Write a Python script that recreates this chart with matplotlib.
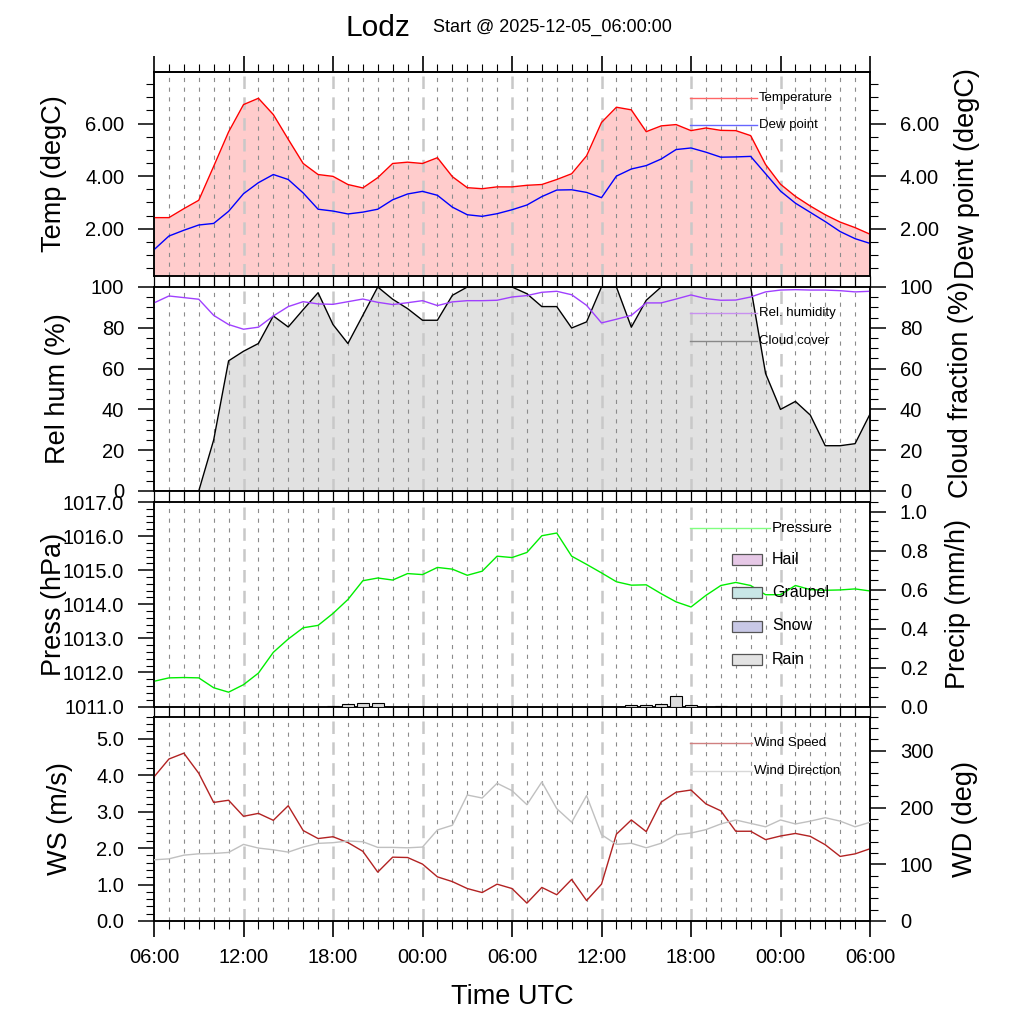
import matplotlib
matplotlib.use('Agg')
import matplotlib.pyplot as plt
import numpy as np
from matplotlib.ticker import MultipleLocator, FormatStrFormatter, FixedLocator
from matplotlib.patches import Rectangle

plt.rcParams['font.family'] = ['Liberation Sans', 'DejaVu Sans']
plt.rcParams['lines.scale_dashes'] = False

# ---------------- data ----------------
hours = np.arange(49)
time_labels = ["06:00", "12:00", "18:00", "00:00", "06:00", "12:00", "18:00", "00:00", "06:00"]

temperature = [2.42, 2.42, 2.76, 3.08, 4.37, 5.68, 6.72, 6.96, 6.34, 5.40,
               4.48, 4.06, 3.99, 3.68, 3.55, 3.94, 4.48, 4.53, 4.48, 4.70,
               3.98, 3.56, 3.52, 3.59, 3.59,
               3.65, 3.68, 3.87, 4.09, 4.77, 6.04, 6.62, 6.52, 5.69, 5.91,
               5.96, 5.73, 5.83, 5.74, 5.73, 5.54, 4.44, 3.69, 3.23, 2.86,
               2.53, 2.25, 2.04, 1.79]
dew_point = [1.20, 1.72, 1.94, 2.14, 2.20, 2.66, 3.33, 3.75, 4.06, 3.87,
             3.36, 2.74, 2.67, 2.56, 2.63, 2.74, 3.10, 3.32, 3.42, 3.27,
             2.82, 2.53, 2.47, 2.57, 2.72,
             2.90, 3.22, 3.47, 3.48, 3.38, 3.18, 4.00, 4.27, 4.40, 4.65,
             5.01, 5.07, 4.91, 4.72, 4.73, 4.75, 4.09, 3.43, 2.97, 2.62,
             2.27, 1.89, 1.62, 1.44]
rel_humidity = [92.2, 95.6, 94.8, 94.0, 86.1, 81.6, 79.3, 80.3, 85.8, 90.4,
                92.8, 91.7, 91.5, 92.8, 94.1, 92.5, 91.4, 92.3, 93.3, 90.9,
                92.7, 93.3, 93.3, 93.5, 95.1,
                95.8, 97.4, 97.9, 96.2, 91.0, 82.4, 84.2, 86.1, 92.2, 92.2,
                94.1, 96.1, 94.3, 93.5, 93.6, 95.1, 97.6, 98.5, 98.7, 98.5,
                98.5, 98.2, 97.6, 97.9]
cloud_cover = [0, 0, 0, 0, 25.0, 63.8, 68.5, 72.3, 85.8, 80.4,
               88.9, 97.2, 81.6, 72.3, 86.1, 100, 94.0, 89.4, 83.7, 83.7,
               95.9, 100, 100, 100, 100,
               96.7, 90.4, 90.4, 79.9, 82.9, 100, 100, 80.3, 93.5, 100,
               100, 100, 100, 100, 100, 100, 57.6, 40.0, 43.9, 37.2,
               22.2, 22.2, 23.2, 37.7]
pressure = [1011.74, 1011.84, 1011.85, 1011.84, 1011.55, 1011.42, 1011.64, 1011.98, 1012.59, 1012.98,
            1013.31, 1013.38, 1013.73, 1014.14, 1014.69, 1014.77, 1014.71, 1014.90, 1014.87, 1015.08,
            1015.03, 1014.85, 1014.97, 1015.41, 1015.37,
            1015.52, 1016.01, 1016.09, 1015.41, 1015.17, 1014.92, 1014.66, 1014.56, 1014.57, 1014.31,
            1014.07, 1013.92, 1014.26, 1014.55, 1014.64, 1014.55, 1014.28, 1014.28, 1014.55, 1014.43,
            1014.41, 1014.42, 1014.45, 1014.39]
rain = [0, 0, 0, 0, 0, 0, 0, 0, 0, 0,
        0, 0, 0.004, 0.014, 0.02, 0.02, 0, 0, 0, 0,
        0, 0, 0, 0, 0,
        0, 0, 0, 0, 0, 0, 0, 0.009, 0.009, 0.014,
        0.055, 0.009, 0, 0.003, 0, 0, 0, 0, 0, 0,
        0, 0, 0, 0]
snow = [0] * 49
graupel = [0] * 49
hail = [0] * 49
wind_speed = [3.95, 4.44, 4.60, 4.05, 3.25, 3.31, 2.87, 2.95, 2.76, 3.16,
              2.48, 2.26, 2.31, 2.15, 1.91, 1.34, 1.75, 1.74, 1.56, 1.21,
              1.08, 0.89, 0.78, 1.01, 0.89,
              0.49, 0.92, 0.72, 1.14, 0.56, 1.01, 2.38, 2.77, 2.45, 3.26,
              3.53, 3.59, 3.21, 3.02, 2.46, 2.46, 2.23, 2.33, 2.40, 2.32,
              2.09, 1.77, 1.84, 1.98]
wind_dir = [107.8, 109.5, 116, 118.4, 119, 120.8, 135, 128.5, 125.5, 121.4,
            130.3, 136.8, 138, 141, 139.7, 129.7, 129.7, 129, 130.3, 160.4,
            168.7, 222, 216.7, 242.7, 229.7,
            205, 245, 198, 174, 221, 152, 135, 137, 129, 137,
            152, 155, 161, 171, 178, 172, 166, 178, 171, 176,
            182, 176, 166, 174]

# ---------------- styling ----------------
TICK_FS = 14.5
LAB_FS = 19.5
LEG_FS = 9.5
SPINE_W = 1.1

fig = plt.figure(figsize=(10.24, 10.24), dpi=100)
PX = 1024.0
LEFT, WIDTH = 154 / PX, 716 / PX


def box(top, bot):
    return [LEFT, 1 - bot / PX, WIDTH, (bot - top) / PX]


panels = [(72, 276), (287, 491), (502, 706.5), (716.7, 921)]
axes = [fig.add_axes(box(t, b)) for t, b in panels]
twins = [a.twinx() for a in axes]


def style_axes(ax, tw, idx):
    ax.set_xlim(hours[0], hours[-1])
    ax.xaxis.set_major_locator(MultipleLocator(6))
    ax.xaxis.set_minor_locator(MultipleLocator(1))
    last = idx == 3
    if last:
        ax.tick_params(axis='x', which='major', direction='out', length=11.5, width=1.2,
                       bottom=True, top=False, labelbottom=True, labelsize=TICK_FS, pad=8)
        ax.tick_params(axis='x', which='minor', direction='out', length=5.6, width=0.8,
                       bottom=True, top=False)
        ax.set_xticks(hours[::6])
        ax.set_xticklabels(time_labels)
    else:
        ax.tick_params(axis='x', which='both', direction='out', length=7.6, width=0.9,
                       bottom=True, top=False, labelbottom=False)
    for a in (ax, tw):
        for s in a.spines.values():
            s.set_linewidth(SPINE_W)
    ax.tick_params(axis='y', which='major', direction='out', length=11.5, width=1.1,
                   labelsize=TICK_FS, pad=10, left=True, right=False)
    ax.tick_params(axis='y', which='minor', direction='out', length=5.6, width=0.8,
                   left=True, right=False)
    tw.tick_params(axis='y', which='major', direction='out', length=11.5, width=1.1,
                   labelsize=TICK_FS, pad=10, right=True, left=False)
    tw.tick_params(axis='y', which='minor', direction='out', length=5.6, width=0.8,
                   right=True, left=False)
    # vertical grid
    for h in hours[1:-1]:
        if h % 6 == 0:
            ax.axvline(h, color='#c8c8c8', lw=1.8, dashes=(9, 6), zorder=1.5)
        else:
            ax.axvline(h, color='#8c8c8c', lw=0.8, dashes=(3, 4), zorder=1.5)


for i, (a, t) in enumerate(zip(axes, twins)):
    style_axes(a, t, i)

# top ticks of first panel
sec = axes[0].secondary_xaxis('top')
sec.xaxis.set_major_locator(MultipleLocator(6))
sec.xaxis.set_minor_locator(MultipleLocator(1))
sec.tick_params(axis='x', which='major', direction='out', length=11.5, width=1.2, labeltop=False)
sec.tick_params(axis='x', which='minor', direction='out', length=5.6, width=0.8)
sec.spines['top'].set_linewidth(SPINE_W)


def legend_line(ax, top, bot, y_img, x0, x1, color, label, fs=LEG_FS, lw=1.0):
    h = bot - top
    yy = (bot - y_img) / h
    xa = (x0 - 154) / 716.0
    xb = (x1 - 154) / 716.0
    ax.plot([xa, xb], [yy, yy], color=color, lw=lw, transform=ax.transAxes, zorder=6, clip_on=False)
    ax.text(xb + 0.003, yy, label, fontsize=fs, va='center', ha='left', transform=ax.transAxes, zorder=6)


def legend_patch(ax, top, bot, y_img, color, label, fs=11.5):
    h = bot - top
    yy = (bot - y_img) / h
    xa = (732 - 154) / 716.0
    w = 30 / 716.0
    hh = 11 / h
    ax.add_patch(Rectangle((xa, yy - hh / 2), w, hh, transform=ax.transAxes,
                           facecolor=color, edgecolor='#555555', lw=0.9, zorder=6, clip_on=False))
    ax.text((772 - 154) / 716.0, yy, label, fontsize=fs, va='center', ha='left',
            transform=ax.transAxes, zorder=6)


# ---------------- panel 1: temperature ----------------
ax, tw = axes[0], twins[0]
t_lo, t_hi = min(dew_point) - 1, max(temperature) + 1
ax.fill_between(hours, temperature, t_lo, color='#ffcccc', lw=0, zorder=1)
ax.plot(hours, temperature, color='#ff0000', lw=1.0, zorder=3)
ax.plot(hours, dew_point, color='#0000ff', lw=1.0, zorder=3)
for a in (ax, tw):
    a.set_ylim(t_lo, t_hi)
    a.yaxis.set_major_locator(FixedLocator([2, 4, 6]))
    a.yaxis.set_minor_locator(MultipleLocator(0.5))
    a.yaxis.set_major_formatter(FormatStrFormatter('%.2f'))
ax.set_ylabel('Temp (degC)', fontsize=LAB_FS)
tw.set_ylabel('Dew point (degC)', fontsize=LAB_FS)
ax.yaxis.set_label_coords(-0.122, 0.5)
tw.yaxis.set_label_coords(1.117, 0.5)
legend_line(tw, *panels[0], 98, 690, 757, '#ff6666', 'Temperature')
legend_line(tw, *panels[0], 125, 690, 757, '#6666ff', 'Dew point')

# ---------------- panel 2: humidity / cloud ----------------
ax, tw = axes[1], twins[1]
ax.fill_between(hours, cloud_cover, 0, color='#e1e1e1', lw=0, zorder=1)
ax.plot(hours, cloud_cover, color='black', lw=1.0, zorder=3)
ax.plot(hours, rel_humidity, color='#a040ff', lw=1.0, zorder=3.5)
for a in (ax, tw):
    a.set_ylim(0, 100)
    a.yaxis.set_major_locator(MultipleLocator(20))
    a.yaxis.set_minor_locator(MultipleLocator(5))
ax.set_ylabel('Rel hum (%)', fontsize=LAB_FS)
tw.set_ylabel('Cloud fraction (%)', fontsize=LAB_FS)
ax.yaxis.set_label_coords(-0.116, 0.5)
tw.yaxis.set_label_coords(1.109, 0.5)
legend_line(tw, *panels[1], 313, 690, 757, '#c890f0', 'Rel. humidity')
legend_line(tw, *panels[1], 341, 690, 757, '#888888', 'Cloud cover')

# ---------------- panel 3: pressure / precipitation ----------------
ax, tw = axes[2], twins[2]
ax.plot(hours, pressure, color='#00ee00', lw=1.0, zorder=3)
ax.set_ylim(1011, 1017)
ax.yaxis.set_major_locator(MultipleLocator(1))
ax.yaxis.set_minor_locator(MultipleLocator(0.2))
ax.yaxis.set_major_formatter(FormatStrFormatter('%.1f'))
b1 = np.array(rain)
b2 = b1 + np.array(snow)
b3 = b2 + np.array(graupel)
tw.bar(hours, rain, width=0.8, color='#dcdcdc', edgecolor='black', lw=0.8, zorder=3)
tw.bar(hours, snow, bottom=b1, width=0.8, color='#c8c8e6', edgecolor='black', lw=0, zorder=3)
tw.bar(hours, graupel, bottom=b2, width=0.8, color='#c8e6e6', edgecolor='black', lw=0, zorder=3)
tw.bar(hours, hail, bottom=b3, width=0.8, color='#e6c8e6', edgecolor='black', lw=0, zorder=3)
tw.set_ylim(0, 1.05)
tw.yaxis.set_major_locator(FixedLocator([0, 0.2, 0.4, 0.6, 0.8, 1.0]))
tw.yaxis.set_minor_locator(MultipleLocator(0.05))
tw.yaxis.set_major_formatter(FormatStrFormatter('%.1f'))
ax.set_ylabel('Press (hPa)', fontsize=LAB_FS)
tw.set_ylabel('Precip (mm/h)', fontsize=LAB_FS)
ax.yaxis.set_label_coords(-0.122, 0.5)
tw.yaxis.set_label_coords(1.105, 0.5)
legend_line(tw, *panels[2], 528, 690, 770, '#80ff80', 'Pressure', fs=11)
legend_patch(tw, *panels[2], 559.5, '#e6c8e6', 'Hail')
legend_patch(tw, *panels[2], 592.5, '#c8e6e6', 'Graupel')
legend_patch(tw, *panels[2], 626, '#c8c8e6', 'Snow')
legend_patch(tw, *panels[2], 659.5, '#e3e3e3', 'Rain')

# ---------------- panel 4: wind ----------------
ax, tw = axes[3], twins[3]
ax.plot(hours, wind_speed, color='#b22222', lw=1.0, zorder=3)
tw.plot(hours, wind_dir, color='#c0c0c0', lw=1.0, zorder=3)
ax.set_ylim(0, 5.6)
ax.yaxis.set_major_locator(MultipleLocator(1))
ax.yaxis.set_minor_locator(MultipleLocator(0.2))
ax.yaxis.set_major_formatter(FormatStrFormatter('%.1f'))
tw.set_ylim(0, 360)
tw.yaxis.set_major_locator(FixedLocator([0, 100, 200, 300]))
tw.yaxis.set_minor_locator(MultipleLocator(20))
ax.set_ylabel('WS (m/s)', fontsize=LAB_FS)
tw.set_ylabel('WD (deg)', fontsize=LAB_FS)
ax.yaxis.set_label_coords(-0.113, 0.5)
tw.yaxis.set_label_coords(1.115, 0.5)
legend_line(tw, *panels[3], 743, 690, 752, '#d08080', 'Wind Speed')
legend_line(tw, *panels[3], 771, 690, 752, '#d8d8d8', 'Wind Direction')

# ---------------- titles ----------------
fig.text(378 / PX, 1 - 28 / PX, 'Lodz', ha='center', va='center', fontsize=21.5)
fig.text(433 / PX, 1 - 27 / PX, 'Start @ 2025-12-05_06:00:00', ha='left', va='center', fontsize=13)
fig.text(512 / PX, 1 - 997 / PX, 'Time UTC', ha='center', va='center', fontsize=LAB_FS)

fig.savefig('out.png', dpi=100)
